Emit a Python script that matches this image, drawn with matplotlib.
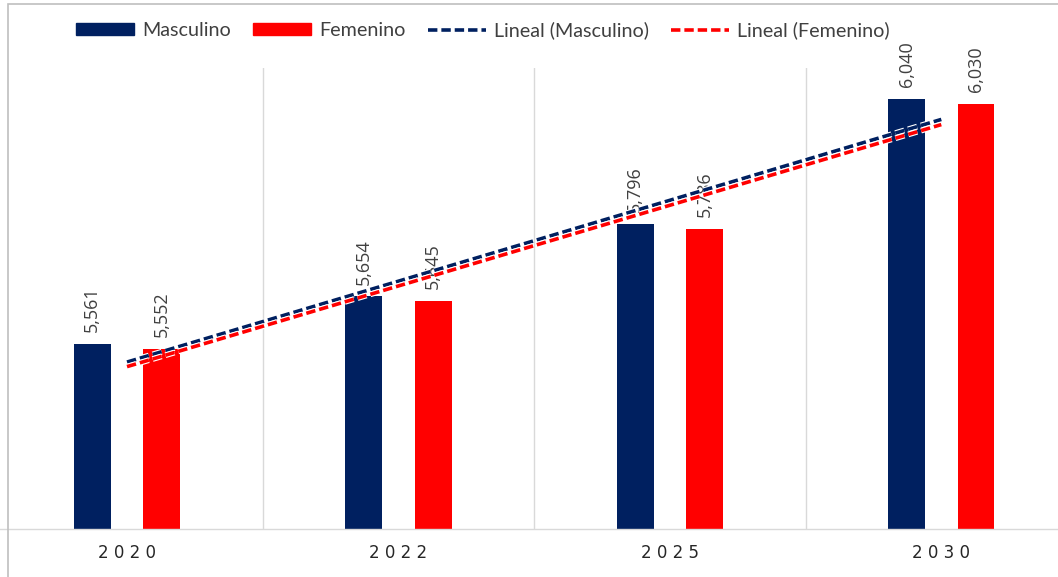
import numpy as np
import matplotlib
matplotlib.use("Agg")
import matplotlib.pyplot as plt
from matplotlib import patheffects as pe
from matplotlib.patches import Rectangle
from matplotlib.lines import Line2D
from matplotlib.patches import Patch

years = ["2020", "2022", "2025", "2030"]
masculino = [5561, 5654, 5796, 6040]
femenino = [5552, 5645, 5786, 6030]

NAVY = "#002060"
RED = "#FF0000"
TXT = "#404040"
GRID = "#d9d9d9"

W, H = 1058, 577
fig = plt.figure(figsize=(W / 100, H / 100), dpi=100)

# axes placement in pixel terms
left_px, right_px = -8.7, 1077.0
top_px, bottom_px = 68.0, 529.0
ax = fig.add_axes([left_px / W, 1 - bottom_px / H,
                   (right_px - left_px) / W, (bottom_px - top_px) / H])
ax.set_xlim(-0.5, 3.5)
ax.set_ylim(5200, 6100)

x = np.arange(len(years))
bw = 0.136
off = 0.128
bm = ax.bar(x - off, masculino, bw, color=NAVY, zorder=2)
bf = ax.bar(x + off, femenino, bw, color=RED, zorder=2)

for rects, vals in ((bm, masculino), (bf, femenino)):
    for r, v in zip(rects, vals):
        ax.annotate(f"{v:,}", (r.get_x() + r.get_width() / 2, r.get_height()),
                    xytext=(0, 8.6), textcoords="offset points",
                    ha="center", va="bottom", rotation=90,
                    fontsize=13, family="Open Sans", color=TXT,
                    annotation_clip=False, zorder=3)

# linear trendlines (least squares over category index, as in Excel)
xi = x + 1
for vals, col in ((masculino, NAVY), (femenino, RED)):
    k, b = np.polyfit(xi, vals, 1)
    ax.plot(x, k * xi + b, color=col, lw=2.6, dashes=(2.6, 1.1),
            solid_capstyle="butt", dash_capstyle="butt", zorder=4,
            path_effects=[pe.Stroke(linewidth=4.2, foreground="white"), pe.Normal()])

# vertical gridlines between categories
for g in [0.5, 1.5, 2.5]:
    ax.axvline(g, color=GRID, lw=1, zorder=0)

for s in ["left", "right", "top"]:
    ax.spines[s].set_visible(False)
ax.spines["bottom"].set_color(GRID)
ax.spines["bottom"].set_linewidth(1)
ax.set_yticks([])
ax.set_xticks(x)
ax.set_xticklabels([" ".join(y) for y in years], fontsize=12,
                   family="DejaVu Sans", color="#262626")
ax.tick_params(axis="x", length=0, pad=11)

# legend
handles = [Patch(facecolor=NAVY, edgecolor=NAVY),
           Patch(facecolor=RED, edgecolor=RED),
           Line2D([], [], color=NAVY, lw=2.6, dashes=(2.6, 1.1)),
           Line2D([], [], color=RED, lw=2.6, dashes=(2.6, 1.1))]
labels = ["Masculino", "Femenino", "Lineal (Masculino)", "Lineal (Femenino)"]
fig.legend(handles, labels, loc="center", ncol=4,
           bbox_to_anchor=(483 / W, 1 - 30 / H), frameon=False,
           prop={"family": "Lato", "size": 14.2}, labelcolor=TXT,
           handlelength=2.95, handleheight=0.5, handletextpad=0.42,
           columnspacing=1.1, borderpad=0, borderaxespad=0)

# chart border
fig.patches.append(Rectangle((8 / W, -0.1), 1.2, 1 - 4 / H + 0.1,
                             transform=fig.transFigure, fill=False,
                             edgecolor="#bfbfbf", lw=1.2))

fig.savefig("out.png", dpi=100)
